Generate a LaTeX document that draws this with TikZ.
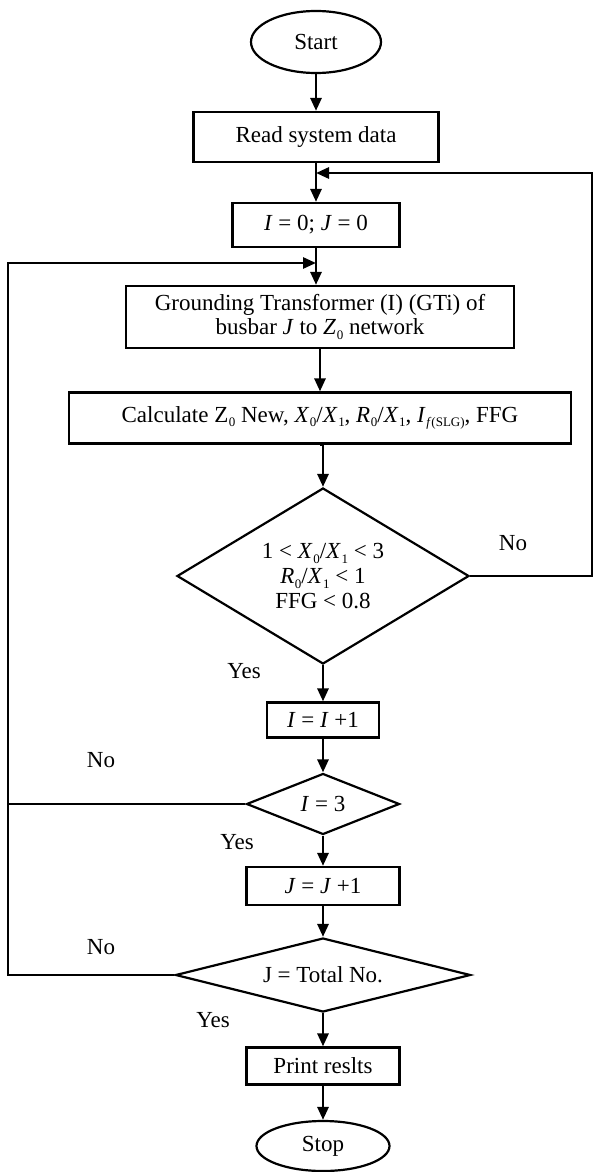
\documentclass[tikz,border=0pt]{standalone}
\usepackage{fontspec}
\setmainfont{Liberation Serif}
\usetikzlibrary{arrows.meta,shapes.geometric,calc}
\newcommand{\vsub}[2]{\textit{#1}\kern.3pt\raisebox{-0.45ex}{\fontsize{6.5}{7}\selectfont #2}}

\begin{document}
\begin{tikzpicture}[x=0.5pt,y=-0.5pt,>={Triangle[length=6.5pt,width=5.5pt]},font=\fontsize{11.5}{12.5}\selectfont]
        \tikzset{procbox/.style={draw,line width=1.1pt,rectangle,align=center,inner sep=0pt},
          termnode/.style={draw,line width=1.1pt,ellipse,inner sep=0pt},
          decide/.style={draw,line width=1.1pt,diamond,align=center,inner sep=0pt},
          flow/.style={->,line width=1.4pt},
          ans/.style={inner sep=0pt}}
        \useasboundingbox (0,0) rectangle (594,1172);
        % main column
        \node[termnode,minimum width=65pt,minimum height=31pt] (start) at (316,42) {Start};
        \node[procbox,minimum width=122.5pt,minimum height=25pt] (read) at (316,137) {Read system data};
        \node[procbox,minimum width=83.5pt,minimum height=22pt] (init) at (316,225) {\textit{I} = 0; \textit{J} = 0};
        \node[procbox,minimum width=194pt,minimum height=31pt,font=\fontsize{11.5}{11.8}\selectfont] (ground) at (320,317) {Grounding Transformer (I) (GTi) of\\busbar \textit{J} to \vsub{Z}{0} network};
        \node[procbox,minimum width=251pt,minimum height=25.5pt] (calc) at (320,418) {Calculate Z\kern.3pt\raisebox{-0.45ex}{\fontsize{6.5}{7}\selectfont 0} New, \vsub{X}{0}/\vsub{X}{1}, \vsub{R}{0}/\vsub{X}{1}, \vsub{I}{\textit{f}(SLG)}, FFG};
        \node[decide,aspect=1.7,minimum width=146pt,minimum height=88pt] (limits) at (323,576) {1 < \vsub{X}{0}/\vsub{X}{1} < 3\\\vsub{R}{0}/\vsub{X}{1} < 1\\FFG < 0.8};
        \node[procbox,minimum width=56pt,minimum height=17.5pt] (incI) at (323,720) {\textit{I} = \textit{I} +1};
        \node[decide,aspect=2.5,minimum width=76.5pt,minimum height=30.5pt] (lastI) at (323,804) {\textit{I} = 3};
        \node[procbox,minimum width=76.5pt,minimum height=19pt] (incJ) at (323,886) {\textit{J} = \textit{J} +1};
        \node[decide,aspect=4,minimum width=147.5pt,minimum height=37pt] (lastJ) at (323,975) {J = Total No.};
        \node[procbox,minimum width=76.5pt,minimum height=18.5pt] (print) at (323,1066) {Print reslts};
        \node[termnode,minimum width=66.5pt,minimum height=25pt] (stop) at (323,1146) {Stop};
        % branch labels
        \node[ans] (noA) at (513,543) {No};
        \node[ans] (yesA) at (244,671) {Yes};
        \node[ans] (noB) at (101,760) {No};
        \node[ans] (yesB) at (237,842) {Yes};
        \node[ans] (noC) at (101,947) {No};
        \node[ans] (yesC) at (213,1020) {Yes};
        % loop corners
        \coordinate (rtop) at (592,173);
        \coordinate (rjoin) at (316,173);
        \coordinate (ltop) at (8,263);
        \coordinate (ljoin) at (316,263);
        \draw[flow] (start.south) -- (start.south |- read.north);
        \draw[flow] (read.south) -- (read.south |- init.north);
        \draw[flow] (init.south) -- (init.south |- ground.north);
        \draw[flow] (ground.south) -- (ground.south |- calc.north);
        \draw[flow] (calc.south) -- (calc.south -| limits.north) -- (limits.north);
        \draw[flow] (limits.south) -- (incI.north);
        \draw[flow] (incI.south) -- (lastI.north);
        \draw[flow] (lastI.south) -- (incJ.north);
        \draw[flow] (incJ.south) -- (lastJ.north);
        \draw[flow] (lastJ.south) -- (print.north);
        \draw[flow] (print.south) -- (stop.north);
        \draw[flow] (limits.east) -- (limits.east -| rtop) -- (rtop) -- (rjoin);
        \draw[flow] (lastJ.west) -- (lastJ.west -| ltop) -- (ltop) -- (ljoin);
        \draw[line width=1.4pt] (lastI.west) -- (lastI.west -| ltop);
      \end{tikzpicture}
\end{document}
